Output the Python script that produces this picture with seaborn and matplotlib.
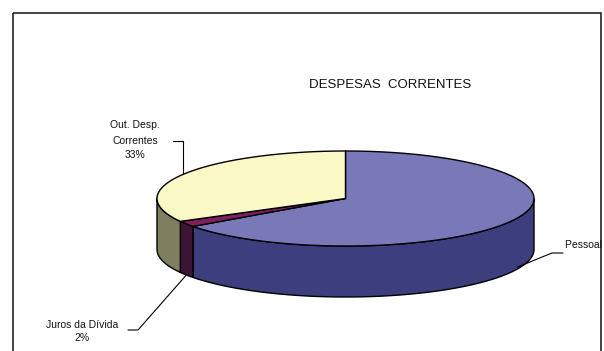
import numpy as np
import matplotlib
matplotlib.use("Agg")
import matplotlib.pyplot as plt
from matplotlib.patches import Polygon, Rectangle
import seaborn as sns

# ---- data ----
categories = ["Pessoal", "Juros da Dívida", "Out. Desp. Correntes"]
values = [65, 2, 33]
label_lines = [["Pessoal 65%"], ["Juros da Dívida", "2%"], ["Out. Desp.", "Correntes", "33%"]]
title = "DESPESAS  CORRENTES"

top_colors = ["#7979B9", "#7E1F5E", "#FAF8C4"]
side_colors = ["#3D3E7D", "#3E1435", "#7F7F5F"]

sns.set_theme(style="white")
plt.rcParams["font.family"] = ["Liberation Sans", "DejaVu Sans"]

W, H = 604, 351
fig = plt.figure(figsize=(6.04, 3.51), dpi=100)
ax = fig.add_axes([0, 0, 1, 1])
ax.set_xlim(0, W)
ax.set_ylim(H, 0)
ax.axis("off")

# chart border
ax.add_patch(Rectangle((13, 13), 588, 400, fill=False, edgecolor="#111111", lw=1.1, zorder=1))

cx, cy, rx, ry, depth = 345.5, 198.5, 188.5, 47.5, 51

fracs = np.array(values, dtype=float) / sum(values)
starts = 90 - 360 * np.concatenate([[0], np.cumsum(fracs)[:-1]])
ends = starts - 360 * fracs


def ell(t, dz=0.0):
    t = np.radians(t)
    return cx + rx * np.cos(t), cy - ry * np.sin(t) + dz


# sides (front half: angles in [-180, 0])
for s, e, c in zip(starts, ends, side_colors):
    lo, hi = max(e, -180), min(s, 0)
    if hi <= lo:
        continue
    ts = np.linspace(lo, hi, 120)
    x1, y1 = ell(ts)
    x2, y2 = ell(ts[::-1], depth)
    pts = np.column_stack([np.concatenate([x1, x2]), np.concatenate([y1, y2])])
    ax.add_patch(Polygon(pts, closed=True, facecolor=c, edgecolor="black", lw=1.0, zorder=2))

# top faces
for s, e, c in zip(starts, ends, top_colors):
    ts = np.linspace(s, e, 200)
    x, y = ell(ts)
    pts = np.column_stack([np.concatenate([[cx], x]), np.concatenate([[cy], y])])
    ax.add_patch(Polygon(pts, closed=True, facecolor=c, edgecolor="black", lw=1.0,
                         joinstyle="round", zorder=3))

# title
ax.text(390, 85, title, ha="center", va="center", fontsize=9.5, color="#111111")

# labels and leaders
text_kw = dict(ha="center", va="center", fontsize=7.5, color="#111111")
clip = Rectangle((13, 13), 588, 400, transform=ax.transData, fill=False, visible=False)
ax.add_patch(clip)

mids = (starts + ends) / 2

# Pessoal (clipped at the border)
t = ax.text(565, 245, label_lines[0][0], ha="left", va="center", fontsize=7.5, color="#111111")
t.set_clip_path(clip)
ex, ey = ell(mids[0], depth)
ax.plot([563, 552, ex + 4, ], [253, 253, ey - 4], color="black", lw=0.8, zorder=4)

# Juros
for i, (ln, yy) in enumerate(zip(label_lines[1], [325, 338])):
    ax.text(82, yy, ln, **text_kw)
ex, ey = ell(mids[1], depth)
ax.plot([128, 138, ex], [330, 330, ey], color="black", lw=0.8, zorder=4)

# Out. Desp. Correntes
for ln, yy in zip(label_lines[2], [125, 141, 155]):
    ax.text(135, yy, ln, **text_kw)
ex, ey = ell(mids[2])
ax.plot([173, ex, ex], [141, 141, ey], color="black", lw=0.8, zorder=4)

fig.savefig("out.png", dpi=100)
